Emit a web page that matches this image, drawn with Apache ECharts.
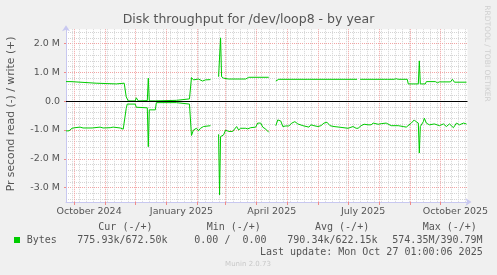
<!DOCTYPE html>
<html><head><meta charset="utf-8">
<script src="https://cdn.jsdelivr.net/npm/echarts@6/dist/echarts.min.js"></script>
<style>html,body{margin:0;padding:0;background:#f0f0f0}#c{width:497px;height:275px}</style>
</head><body><div id="c"></div>
<script>
// ---- data (values in MB/s; read shown negative) ----
const titleText = 'Disk throughput for /dev/loop8 - by year';
const yTitle = 'Pr second read (-) / write (+)';
const startDateUTC = [2024, 8, 23];   // 2024-09-23
const dayCount = 401;
const xLabelDates = ['2024-10-16', '2025-01-16', '2025-04-16', '2025-07-16', '2025-10-16'];
const xLabelTexts = ['October 2024', 'January 2025', 'April 2025', 'July 2025', 'October 2025'];
const writePoints = [[0,0.68],[5,0.68],[6,0.625],[30,0.625],[31,0.60],[50,0.60],[51,0.625],[58,0.625],[60,0.15],[62,0.01],[69,0.01],[70,0.12],[72,0.01],[81,0.02],[82,0.80],[83,0.01],[89,0.01],[90,0.03],[110,0.03],[111,0.08],[123,0.08],[125,0.82],[127,0.74],[132,0.77],[136,0.70],[139,0.74],[144,0.75],[145,null],[152,0.85],[153,0.85],[154,2.2],[155,0.85],[157,0.80],[162,0.77],[179,0.77],[180,0.74],[182,0.83],[202,0.83],[203,null],[209,0.70],[212,0.76],[241,0.76],[242,0.72],[243,0.76],[261,0.76],[262,0.72],[263,0.76],[275,0.76],[276,0.72],[277,0.76],[290,0.76],[291,null],[293,0.76],[317,0.76],[318,0.73],[320,0.76],[327,0.76],[329,0.78],[331,0.76],[340,0.76],[341,0.60],[351,0.60],[352,1.40],[353,0.60],[358,0.60],[359,0.68],[368,0.68],[370,0.64],[372,0.67],[383,0.67],[385,0.76],[387,0.66],[399,0.66]];
const readPoints = [[0,1.03],[3,1.03],[6,0.94],[9,0.92],[14,0.90],[17,0.93],[26,0.93],[34,0.90],[37,0.93],[44,0.92],[47,0.90],[54,0.93],[57,0.97],[58,0.97],[60,0.25],[61,0.10],[69,0.10],[70,0.21],[81,0.23],[82,1.58],[83,0.30],[89,0.30],[90,0.05],[110,0.05],[111,0.10],[123,0.10],[125,1.19],[127,1.00],[130,0.94],[132,1.03],[134,0.94],[137,0.88],[144,0.85],[145,null],[152,1.15],[153,3.25],[154,1.23],[157,1.17],[159,1.00],[162,1.05],[166,1.05],[170,0.88],[172,1.00],[174,0.94],[179,0.94],[181,0.96],[184,0.92],[189,0.90],[191,0.76],[194,0.76],[196,0.90],[199,0.97],[202,1.08],[203,null],[209,0.85],[211,0.65],[212,0.66],[214,0.69],[216,0.88],[219,0.86],[222,0.86],[225,0.76],[228,0.71],[231,0.79],[236,0.85],[237,0.90],[242,0.90],[244,0.82],[247,0.85],[251,0.88],[254,0.85],[257,0.76],[260,0.73],[263,0.85],[267,0.88],[272,0.90],[281,0.94],[286,0.88],[289,0.94],[291,0.94],[294,0.85],[297,0.80],[301,0.82],[304,0.82],[306,0.76],[311,0.80],[314,0.78],[319,0.76],[324,0.85],[331,0.85],[336,0.88],[339,0.90],[344,0.76],[347,0.65],[349,0.72],[351,0.76],[352,1.80],[353,0.88],[356,0.71],[357,0.59],[359,0.76],[362,0.82],[367,0.79],[372,0.85],[376,0.79],[379,0.88],[382,0.79],[386,0.92],[389,0.76],[392,0.82],[396,0.76],[399,0.79]];
const legendName = 'Bytes';
const legendHeaders = ['Cur (-/+)', 'Min (-/+)', 'Avg (-/+)', 'Max (-/+)'];
const legendValues = ['775.93k/672.50k', '0.00 /  0.00', '790.34k/622.15k', '574.35M/390.79M'];
const lastUpdate = 'Last update: Mon Oct 27 01:00:06 2025';
const versionText = 'Munin 2.0.73';
const rrdText = 'RRDTOOL / TOBI OETIKER';

// ---- build ----
const t0 = Date.UTC(startDateUTC[0], startDateUTC[1], startDateUTC[2]);
const categories = [];
for (let i = 0; i < dayCount; i++) categories.push(new Date(t0 + i * 86400000).toISOString().slice(0, 10));
const isMonthStart = i => categories[i].slice(8) === '01';
const isSunday = i => new Date(t0 + i * 86400000).getUTCDay() === 0;
const labelMap = {};
xLabelDates.forEach((d, k) => labelMap[d] = xLabelTexts[k]);

const writeData = writePoints.map(p => [p[0], p[1] === null ? '-' : p[1]]);
const readData = readPoints.map(p => [p[0], p[1] === null ? '-' : -p[1]]);

const GREEN = '#00cc00', AX = '#c8c8f0', MAJ = '#f2a4a4', MIN = '#d4d4d4', TXT = '#555';
const FONT = '"DejaVu Sans", sans-serif', MONO = '"DejaVu Sans Mono", monospace';
const L = 66, W = 401.5, Z0 = 101.2, PX = 28.8;

const chart = echarts.init(document.getElementById('c'), null, {renderer: 'canvas'});
const colX = [98.3, 206.7, 315, 422.7];
const valX = [77.3, 194.3, 287.3, 392.3];
const graphic = [
  {type: 'text', x: 248.5, y: 19.5, style: {text: titleText, align: 'center', verticalAlign: 'middle', font: '12.5px ' + FONT, fill: TXT}},
  {type: 'text', x: 11, y: 114, rotation: Math.PI / 2, style: {text: yTitle, align: 'center', verticalAlign: 'middle', font: '10.8px ' + FONT, fill: TXT}},
  {type: 'text', x: 487, y: 53.5, rotation: -Math.PI / 2, style: {text: rrdText, align: 'center', verticalAlign: 'middle', font: '7.5px ' + FONT, fill: '#cfcfcf'}},
  {type: 'rect', shape: {x: 14, y: 237, width: 6, height: 6}, style: {fill: GREEN}},
  {type: 'text', x: 26.7, y: 240, style: {text: legendName, align: 'left', verticalAlign: 'middle', font: '10px ' + MONO, fill: TXT}},
  {type: 'text', x: 482.7, y: 252, style: {text: lastUpdate, align: 'right', verticalAlign: 'middle', font: '10px ' + MONO, fill: TXT}},
  {type: 'text', x: 248, y: 264, style: {text: versionText, align: 'center', verticalAlign: 'middle', font: '7px ' + FONT, fill: '#c8c8c8'}}
];
legendHeaders.forEach((h, k) => graphic.push({type: 'text', x: colX[k], y: 227.5, style: {text: h, align: 'left', verticalAlign: 'middle', font: '10px ' + MONO, fill: TXT}}));
legendValues.forEach((v, k) => graphic.push({type: 'text', x: valX[k], y: 240, style: {text: v, align: 'left', verticalAlign: 'middle', font: '10px ' + MONO, fill: TXT}}));

const hidden = {axisLine: {show: false}, axisTick: {show: false}, axisLabel: {show: false}};
const option = {
  backgroundColor: '#f0f0f0',
  animation: false,
  grid: [
    {left: L, top: Z0 - 2.5 * PX, width: W, height: 6 * PX, show: true, backgroundColor: '#fff', borderWidth: 0},
    {left: L, top: Z0 - 2.4 * PX, width: W, height: 5.8 * PX, show: false},
    {left: L, top: Z0 - 2 * PX, width: W, height: 5 * PX, show: false}
  ],
  xAxis: [
    Object.assign({gridIndex: 0, type: 'category', data: categories, boundaryGap: false,
      splitLine: {show: true, interval: i => isSunday(i) && !isMonthStart(i), lineStyle: {color: MIN, type: [1, 1], width: 1}}}, hidden),
    {gridIndex: 0, type: 'category', data: categories, boundaryGap: false, position: 'bottom',
      axisLine: {show: true, onZero: false, symbol: ['none', 'arrow'], symbolSize: [6, 6], symbolOffset: [0, 4], lineStyle: {color: AX, width: 1}},
      axisTick: {show: true, interval: i => isMonthStart(i), length: 3, lineStyle: {color: '#f08a8a'}},
      axisLabel: {interval: (i, v) => labelMap[v] !== undefined, formatter: v => labelMap[v] || '', fontSize: 9.5, fontFamily: FONT, color: TXT, margin: 5},
      splitLine: {show: true, interval: i => isMonthStart(i), lineStyle: {color: MAJ, type: [1, 1], width: 1}}},
    {gridIndex: 1, type: 'value', show: false},
    {gridIndex: 2, type: 'value', show: false}
  ],
  yAxis: [
    {gridIndex: 0, type: 'value', min: -3.5, max: 2.5, interval: 0.5,
      axisLine: {show: true, symbol: ['none', 'arrow'], symbolSize: [6, 6], symbolOffset: [0, 4], lineStyle: {color: AX, width: 1}},
      axisTick: {show: false}, axisLabel: {show: false}, splitLine: {show: false}},
    Object.assign({gridIndex: 1, type: 'value', min: -3.4, max: 2.4, interval: 0.2,
      splitLine: {show: true, lineStyle: {color: MIN, type: [1, 1], width: 1}}}, hidden),
    {gridIndex: 2, type: 'value', min: -3, max: 2, interval: 1,
      axisLine: {show: false},
      axisTick: {show: true, length: 2, lineStyle: {color: '#f08a8a'}},
      axisLabel: {margin: 6, fontSize: 9.5, fontFamily: FONT, color: TXT, formatter: v => v === 0 ? '0.0' : v.toFixed(1) + ' M'},
      splitLine: {show: true, lineStyle: {color: MAJ, type: [1, 1], width: 1}}}
  ],
  series: [
    {name: 'read', type: 'line', xAxisIndex: 1, yAxisIndex: 0, data: readData, symbol: 'none', connectNulls: false, z: 3,
      lineStyle: {color: GREEN, width: 1},
      markLine: {silent: true, symbol: 'none', label: {show: false}, lineStyle: {color: '#000', width: 1, type: 'solid'}, data: [{yAxis: 0}]}},
    {name: 'write', type: 'line', xAxisIndex: 1, yAxisIndex: 0, data: writeData, symbol: 'none', connectNulls: false, z: 4,
      lineStyle: {color: GREEN, width: 1}}
  ],
  graphic: graphic
};
chart.setOption(option);
</script></body></html>
